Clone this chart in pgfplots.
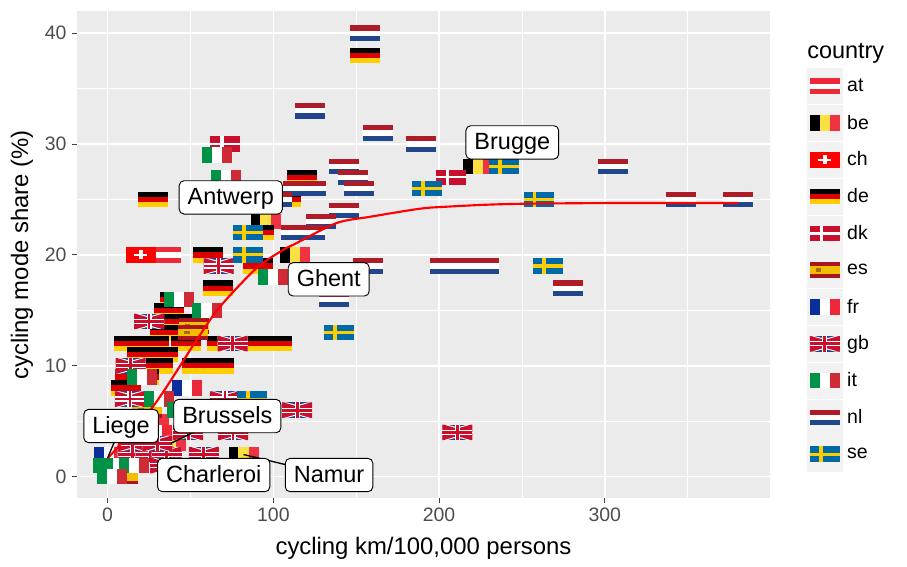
\documentclass[border=0pt]{standalone}
\usepackage{fontspec}
\setmainfont{Liberation Sans}
\usepackage{pgfplots}
\pgfplotsset{compat=1.18}
\usetikzlibrary{calc}
\definecolor{panelbg}{HTML}{EBEBEB}
\definecolor{keybg}{HTML}{F2F2F2}
\definecolor{tickc}{HTML}{4D4D4D}
\definecolor{atred}{HTML}{ED2939}
\definecolor{bey}{HTML}{FAE042}
\definecolor{ber}{HTML}{EF3340}
\definecolor{chr}{HTML}{FF0000}
\definecolor{der}{HTML}{DD0000}
\definecolor{dey}{HTML}{FFCE00}
\definecolor{dkr}{HTML}{C8102E}
\definecolor{esr}{HTML}{AA151B}
\definecolor{esy}{HTML}{F1BF00}
\definecolor{esm}{HTML}{AD6A10}
\definecolor{frb}{HTML}{0A2F9A}
\definecolor{frr}{HTML}{ED2939}
\definecolor{gbb}{HTML}{2A3F85}
\definecolor{gbr}{HTML}{C8102E}
\definecolor{itg}{HTML}{009246}
\definecolor{itr}{HTML}{CE2B37}
\definecolor{nlr}{HTML}{AE1C28}
\definecolor{nlb}{HTML}{21468B}
\definecolor{seb}{HTML}{006AA7}
\definecolor{sey}{HTML}{FECC00}
\newcommand\fr[5]{\pgfsetfillcolor{#1}\pgfpathrectanglecorners{\pgfpoint{#2*11.25pt}{#3*5.8pt}}{\pgfpoint{#4*11.25pt}{#5*5.8pt}}\pgfusepath{fill}}
\newcommand\pp[2]{\pgfpoint{#1*11.25pt}{#2*5.8pt}}
\newcommand\diag[3]{% colour, width along the edge, sign
  \pgfsetfillcolor{#1}%
  \pgfpathmoveto{\pp{#3*-1}{-1}}\pgfpathlineto{\pp{#3*(-1+#2)}{-1}}\pgfpathlineto{\pp{#3*1}{1-#2}}%
  \pgfpathlineto{\pp{#3*1}{1}}\pgfpathlineto{\pp{#3*(1-#2)}{1}}\pgfpathlineto{\pp{#3*-1}{-1+#2}}\pgfpathclose\pgfusepath{fill}}
\pgfdeclareplotmark{at}{\fr{atred}{-1}{-1}{1}{1}\fr{white}{-1}{-.34}{1}{.34}}
\pgfdeclareplotmark{be}{\fr{black}{-1}{-1}{-.34}{1}\fr{bey}{-.34}{-1}{.34}{1}\fr{ber}{.34}{-1}{1}{1}}
\pgfdeclareplotmark{ch}{\fr{chr}{-1}{-1}{1}{1}\fr{white}{-.42}{-.17}{.42}{.17}\fr{white}{-.14}{-.58}{.14}{.58}}
\pgfdeclareplotmark{de}{\fr{black}{-1}{.34}{1}{1}\fr{der}{-1}{-.34}{1}{.34}\fr{dey}{-1}{-1}{1}{-.34}}
\pgfdeclareplotmark{dk}{\fr{dkr}{-1}{-1}{1}{1}\fr{white}{-.33}{-1}{-.11}{1}\fr{white}{-1}{-.14}{1}{.14}}
\pgfdeclareplotmark{es}{\fr{esr}{-1}{-1}{1}{1}\fr{esy}{-1}{-.5}{1}{.5}\fr{esm}{-.6}{-.24}{-.25}{.24}}
\pgfdeclareplotmark{fr}{\fr{frb}{-1}{-1}{-.34}{1}\fr{white}{-.34}{-1}{.34}{1}\fr{frr}{.34}{-1}{1}{1}}
\pgfdeclareplotmark{gb}{\fr{gbb}{-1}{-1}{1}{1}\diag{white}{.32}{1}\diag{white}{.32}{-1}\diag{gbr}{.1}{1}\diag{gbr}{.1}{-1}\fr{white}{-.17}{-1}{.17}{1}\fr{white}{-1}{-.34}{1}{.34}\fr{gbr}{-.09}{-1}{.09}{1}\fr{gbr}{-1}{-.18}{1}{.18}}
\pgfdeclareplotmark{it}{\fr{itg}{-1}{-1}{-.34}{1}\fr{white}{-.34}{-1}{.34}{1}\fr{itr}{.34}{-1}{1}{1}}
\pgfdeclareplotmark{nl}{\fr{nlr}{-1}{.34}{1}{1}\fr{white}{-1}{-.34}{1}{.34}\fr{nlb}{-1}{-1}{1}{-.34}}
\pgfdeclareplotmark{se}{\fr{seb}{-1}{-1}{1}{1}\fr{sey}{-.4}{-1}{-.14}{1}\fr{sey}{-1}{-.2}{1}{.2}}
\newcommand\legkey[1]{\begin{pgfscope}\fill[keybg] (0,-13.125pt) rectangle (26.25pt,13.125pt);\pgftransformshift{\pgfpoint{13.125pt}{0pt}}\pgfuseplotmark{#1}\end{pgfscope}}
\newcommand\keyentry[1]{\addlegendimage{legend image code/.code={\legkey{#1}}}}
\tikzset{lab/.style={draw=black,line width=.7pt,fill=white,rounded corners=3.6pt,inner xsep=6.4pt,inner ysep=4.45pt,text height=13.5pt,text depth=2.6pt,font=\fontsize{17.6}{20}\selectfont,anchor=center},
seg/.style={draw=black,line width=1pt}}
\begin{document}
\begin{tikzpicture}[x=1pt,y=1pt]
\path (0,0) rectangle (680.25pt,425.25pt);
\begin{axis}[
  at={(57.75pt,51.75pt)},anchor=south west,
  scale only axis,width=519.75pt,height=365.25pt,
  xmin=-18.5,xmax=399.7,ymin=-1.92,ymax=42,
  xtick={0,100,200,300},ytick={0,10,20,30,40},
  minor xtick={50,150,250,350},minor ytick={5,15,25,35},
  grid=both,
  major grid style={white,line width=1.1pt},
  minor grid style={white,line width=.55pt},
  axis background/.style={fill=panelbg},
  axis line style={draw=none},
  tick align=outside,tick pos=left,
  major tick length=3.5pt,minor tick length=0pt,
  tick style={draw=black!75,line width=.8pt},
  minor tick style={draw=none},
  /pgf/number format/assume math mode=true,
  tick label style={font=\fontsize{14.6}{16}\selectfont,text=tickc},
  xticklabel style={yshift=-.2pt},
  yticklabel style={xshift=-.8pt},
  label style={font=\fontsize{17.9}{20}\selectfont},
  xlabel={cycling km/100,000 persons},
  ylabel={cycling mode share (\%)},
  xlabel style={at={(rel axis cs:0.5,-0.1026)},anchor=center},
  ylabel style={at={(rel axis cs:-0.0794,0.499)},anchor=center},
  clip mode=individual,
  legend cell align=left,
  legend style={at={(rel axis cs:1.0534,0.882)},anchor=north west,draw=none,fill=none,inner sep=0pt,outer sep=0pt,
    font=\fontsize{14.6}{16}\selectfont,row sep=.95pt,
    /tikz/every odd column/.append style={column sep=1.5pt}},
  every axis plot/.append style={forget plot},
]
\addplot[only marks,mark=at] coordinates {(35,20)};
\addplot[only marks,mark=be] coordinates {(95.3,23)(113,20)(223.5,28)(82,2)(38,3)(28,5)};
\addplot[only marks,mark=ch] coordinates {(20,20)};
\addplot[only marks,mark=de] coordinates {(155,38)(117,27)(107.6,25)(27.6,25)(60.5,20)(91.3,22)(91,19)(66.4,17)(40.6,16)(37,15)(43,14)(34.7,13)(13,12)(28,12)(47,12)(68.8,12)(94,12)(102,12)(21,11)(33.6,11)(30.6,10)(54,10)(67,10)(13.5,9)(22,9)(11,8)};
\addplot[only marks,mark=dk] coordinates {(71,30)(207,27)};
\addplot[only marks,mark=es] coordinates {(52,13.6)(51.7,13)(24,6)(9.4,0)};
\addplot[only marks,mark=fr] coordinates {(48,8)(1,2)(30,4)};
\addplot[only marks,mark=gb] coordinates {(67,19)(25,14)(75.4,12)(13.9,10)(13.4,7)(70.8,7)(114.4,6)(75.7,4)(211,4)(48.6,4)(58,2)(15,2)(26,2)(35.6,2)(15,3)(30,3)(34.7,1)};
\addplot[only marks,mark=it] coordinates {(66,29)(71.4,27)(99.8,18)(43,16)(59.7,15)(20.5,9)(31,7)(45,6)(0.4,1)(6.4,1)(16,1)(2.4,0)};
\addplot[only marks,mark=nl] coordinates {(155.3,40)(122,33)(163,31)(189,30)(142.6,28)(148,27)(123,26)(115,26)(151.7,26)(142.7,24)(128.7,23)(113.6,22)(122,22)(157,19)(203.6,19)(215,19)(227,19)(278,17)(136.6,16)(304.8,28)(346,25)(380.6,25)(102,25)};
\addplot[only marks,mark=se] coordinates {(84.7,22)(84.7,20)(192.7,26)(239.3,28)(260,25)(265.5,19)(139.7,13)(87,7)};
\addplot[no marks,smooth,line width=1.6pt,color=red] coordinates {(0,1.66)(27.3,6.31)(53.7,12.33)(67.8,15.33)(89.9,18.82)(105.8,20.44)(114,21.07)(138.2,22.88)(158.3,23.44)(188.5,24.17)(204.6,24.35)(228.7,24.53)(252.9,24.62)(303.1,24.68)(380.4,24.68)};
\draw[seg] (axis cs:82,2) -- (axis cs:133.6,0.15);
\draw[seg] (axis cs:38,3) -- (axis cs:72.2,5.47);
\draw[seg] (axis cs:0,1.7) -- (axis cs:8.1,4.57);
\node[lab] at (axis cs:244.2,30.15) {Brugge};
\node[lab] at (axis cs:74.3,25.19) {Antwerp};
\node[lab] at (axis cs:133.4,17.8) {Ghent};
\node[lab] at (axis cs:8.1,4.57) {Liege};
\node[lab] at (axis cs:72.2,5.47) {Brussels};
\node[lab] at (axis cs:64,0.15) {Charleroi};
\node[lab] at (axis cs:133.6,0.15) {Namur};
\keyentry{at}\keyentry{be}\keyentry{ch}\keyentry{de}\keyentry{dk}\keyentry{es}\keyentry{fr}\keyentry{gb}\keyentry{it}\keyentry{nl}\keyentry{se}
\legend{at,be,ch,de,dk,es,fr,gb,it,nl,se}
\node[anchor=west,font=\fontsize{17.6}{20}\selectfont,inner sep=0pt] at (rel axis cs:1.0534,0.9125) {country};
\end{axis}
\end{tikzpicture}
\end{document}
